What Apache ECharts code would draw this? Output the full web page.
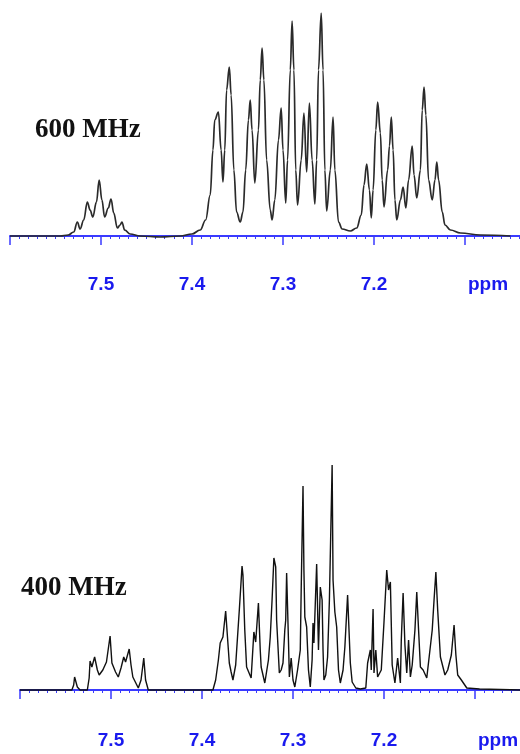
<!DOCTYPE html>
<html>
<head>
<meta charset="utf-8">
<title>600 vs 400 MHz</title>
<script src="https://cdn.jsdelivr.net/npm/echarts@6/dist/echarts.min.js"></script>
<style>
  html, body { margin: 0; padding: 0; background: #fff; overflow: hidden; }
  /* wider than the window: the 7.0-7.05 end of the axes falls off the right edge */
  #chart { width: 580px; height: 754px; }
</style>
</head>
<body>
<div id="chart"></div>
<script>
// 600 MHz trace (ppm, intensity)
var ppm600 = [7.600, 7.567, 7.545, 7.536, 7.530, 7.526, 7.523, 7.519, 7.515, 7.512, 7.509, 7.505, 7.502, 7.499,
  7.496, 7.492, 7.489, 7.486, 7.482, 7.479, 7.477, 7.474, 7.468, 7.457, 7.435, 7.413, 7.400, 7.391, 7.385,
  7.380, 7.377, 7.375, 7.371, 7.368, 7.366, 7.364, 7.362, 7.359, 7.357, 7.354, 7.351, 7.347, 7.344, 7.341,
  7.338, 7.336, 7.334, 7.331, 7.327, 7.325, 7.323, 7.321, 7.318, 7.314, 7.312, 7.309, 7.305, 7.302, 7.300,
  7.297, 7.295, 7.292, 7.290, 7.288, 7.286, 7.284, 7.280, 7.277, 7.274, 7.271, 7.268, 7.265, 7.263, 7.261,
  7.258, 7.256, 7.254, 7.252, 7.248, 7.245, 7.243, 7.239, 7.235, 7.226, 7.219, 7.214, 7.211, 7.208, 7.205,
  7.203, 7.201, 7.198, 7.196, 7.193, 7.191, 7.189, 7.185, 7.183, 7.181, 7.179, 7.177, 7.175, 7.171, 7.168,
  7.165, 7.162, 7.158, 7.156, 7.153, 7.149, 7.147, 7.145, 7.143, 7.140, 7.136, 7.133, 7.131, 7.129, 7.125,
  7.122, 7.116, 7.105, 7.083, 7.050];
var int600 = [0, 0, 0, 1, 4, 14, 7, 16, 34, 26, 19, 34, 56, 36,
  19, 28, 37, 23, 8, 11, 14, 6, 2, 0, -1, 0, 2, 6, 16,
  41, 86, 116, 124, 86, 54, 86, 146, 169, 141, 66, 24, 14, 24, 66,
  116, 136, 106, 53, 106, 156, 188, 156, 76, 26, 16, 36, 96, 128, 86,
  33, 76, 166, 215, 166, 66, 31, 76, 123, 64, 133, 76, 32, 76, 166,
  223, 166, 66, 25, 66, 119, 66, 14, 7, 5, 8, 21, 51, 72, 46,
  18, 46, 106, 134, 103, 56, 29, 66, 90, 119, 86, 36, 16, 36, 49,
  28, 56, 90, 61, 38, 66, 126, 149, 121, 56, 36, 56, 74, 56, 24,
  11, 6, 3, 1, 0];

// 400 MHz trace
var ppm400 = [7.600, 7.567, 7.543, 7.541, 7.540, 7.537, 7.534, 7.526, 7.524, 7.523, 7.521, 7.518, 7.515, 7.513,
  7.509, 7.505, 7.503, 7.501, 7.499, 7.497, 7.495, 7.492, 7.489, 7.486, 7.484, 7.480, 7.478, 7.476, 7.470,
  7.467, 7.464, 7.462, 7.459, 7.388, 7.385, 7.382, 7.380, 7.377, 7.374, 7.371, 7.370, 7.368, 7.366, 7.363,
  7.359, 7.356, 7.355, 7.353, 7.351, 7.346, 7.343, 7.341, 7.338, 7.336, 7.335, 7.331, 7.327, 7.325, 7.323,
  7.321, 7.319, 7.318, 7.315, 7.313, 7.311, 7.309, 7.308, 7.307, 7.305, 7.304, 7.302, 7.300, 7.298, 7.295,
  7.292, 7.291, 7.289, 7.288, 7.287, 7.285, 7.283, 7.281, 7.279, 7.278, 7.277, 7.274, 7.272, 7.270, 7.268,
  7.267, 7.266, 7.264, 7.262, 7.260, 7.257, 7.256, 7.254, 7.252, 7.250, 7.248, 7.245, 7.243, 7.240, 7.237,
  7.235, 7.234, 7.231, 7.226, 7.220, 7.218, 7.215, 7.214, 7.212, 7.211, 7.209, 7.207, 7.203, 7.200, 7.197,
  7.195, 7.193, 7.191, 7.188, 7.185, 7.182, 7.181, 7.179, 7.177, 7.175, 7.173, 7.171, 7.169, 7.166, 7.164,
  7.162, 7.160, 7.157, 7.153, 7.147, 7.145, 7.143, 7.141, 7.138, 7.133, 7.130, 7.126, 7.123, 7.121, 7.119,
  7.115, 7.109, 7.095, 7.050];
var int400 = [0, 0, 0, 5, 13, 3, 0, 0, 12, 29, 23, 33, 20, 15,
  20, 28, 30, 54, 27, 27, 18, 13, 22, 33, 28, 41, 25, 13, 2,
  10, 32, 10, 0, 0, 10, 30, 47, 53, 79, 40, 27, 18, 10, 25,
  80, 124, 115, 60, 23, 12, 58, 48, 87, 40, 23, 7, 30, 53, 90,
  132, 123, 70, 17, 20, 27, 60, 70, 117, 50, 13, 32, 10, 3, 20,
  40, 100, 204, 120, 73, 63, 20, 3, 30, 67, 47, 126, 40, 103, 90,
  40, 10, 15, 33, 90, 225, 110, 78, 63, 20, 7, 20, 43, 95, 27,
  8, 10, 2, 1, 2, 27, 40, 20, 81, 17, 40, 13, 20, 68, 120,
  100, 108, 25, 7, 32, 7, 50, 97, 45, 17, 50, 13, 25, 60, 98,
  60, 23, 20, 12, 60, 90, 118, 80, 33, 15, 20, 35, 65, 35, 15,
  10, 2, 1, 0];

var tickLabels = { 75: "7.5", 74: "7.4", 73: "7.3", 72: "7.2", 71: "ppm" };

function pairs(xs, ys) {
  return xs.map(function(x, i) { return [x, ys[i]]; });
}

function ppmAxis(gridIndex) {
  return {
    type: "value",
    gridIndex: gridIndex,
    inverse: true,
    min: 7.0,
    max: 7.6,
    interval: 0.1,
    splitLine: { show: false },
    axisLine: { lineStyle: { color: "#3a3aff", width: 2 } },
    axisTick: { length: 9, lineStyle: { color: "#3a3aff", width: 1.5 } },
    minorTick: { show: true, splitNumber: 10, length: 3, lineStyle: { color: "#3a3aff", width: 1 } },
    axisLabel: {
      margin: 18,
      color: "#1a1aee",
      fontFamily: "Liberation Sans",
      fontWeight: "bold",
      fontSize: 19,
      formatter: function(v) {
        var t = tickLabels[Math.round(v * 10)];
        if (!t) return "";
        return t === "ppm" ? "{p|ppm}" : t;
      },
      rich: {
        p: { padding: [0, 0, 0, 46], color: "#1a1aee", fontFamily: "Liberation Sans", fontWeight: "bold", fontSize: 19 }
      }
    }
  };
}

var chart = echarts.init(document.getElementById("chart"));
chart.setOption({
  animation: false,
  backgroundColor: "#ffffff",
  title: [
    {
      text: "600 MHz", left: 30, top: 112,
      textStyle: { fontFamily: "Liberation Serif", fontWeight: "bold", fontSize: 27, color: "#111" }
    },
    {
      text: "400 MHz", left: 16, top: 570,
      textStyle: { fontFamily: "Liberation Serif", fontWeight: "bold", fontSize: 27, color: "#111" }
    }
  ],
  // 0.6 ppm = 546 px in both plots
  grid: [
    { left: 10, right: 24, top: 13, bottom: 497 },
    { left: 20, right: 14, top: 465, bottom: 41 }
  ],
  xAxis: [ppmAxis(0), ppmAxis(1)],
  yAxis: [
    { type: "value", gridIndex: 0, min: -21, max: 223, show: false },
    { type: "value", gridIndex: 1, min: -23, max: 225, show: false }
  ],
  series: [
    {
      name: "600 MHz",
      type: "line",
      xAxisIndex: 0,
      yAxisIndex: 0,
      data: pairs(ppm600, int600),
      showSymbol: false,
      smooth: 0.4,
      smoothMonotone: "x",
      lineStyle: { color: "#2a2a2a", width: 1.7 }
    },
    {
      name: "400 MHz",
      type: "line",
      xAxisIndex: 1,
      yAxisIndex: 1,
      data: pairs(ppm400, int400),
      showSymbol: false,
      lineStyle: { color: "#111", width: 1.4 }
    }
  ]
});
</script>
</body>
</html>
